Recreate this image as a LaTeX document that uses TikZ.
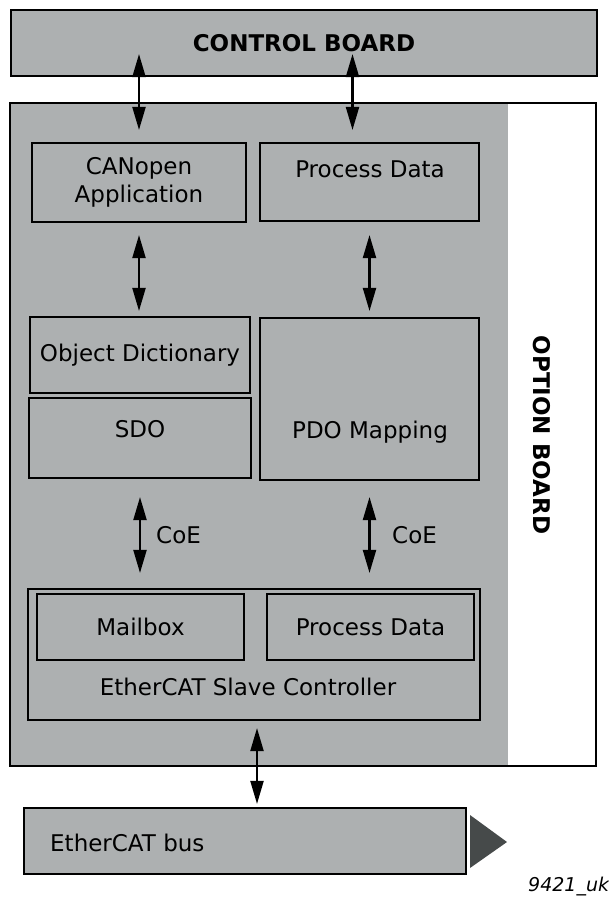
\documentclass[tikz,border=0pt]{standalone}
\usepackage{fontspec}
\setmainfont{DejaVu Sans}
\usepackage{tikz}
\usetikzlibrary{arrows.meta}
\definecolor{ecgrey}{RGB}{173,176,177}
\definecolor{ecdark}{RGB}{70,74,74}
\tikzset{
  ecbox/.style={draw=black, line width=2.1pt, fill=ecgrey, inner sep=0pt, align=center},
  ecopt/.style={draw=black, line width=2.1pt, fill=white, inner sep=0pt,
    path picture={\fill[ecgrey] (path picture bounding box.north west) rectangle ([xshift=-88pt]path picture bounding box.south east);}},
  ectext/.style={inner sep=0pt, align=center, text=black},
  ecarr/.style={{Triangle[length=23pt,width=13pt]}-{Triangle[length=23pt,width=13pt]}, line width=2.1pt}
}

\begin{document}
\begin{tikzpicture}[x=1pt, y=-1pt, font=\fontsize{23}{28}\selectfont]
  \useasboundingbox (0,0) rectangle (608,897);
  % boards
  \node[ecbox, minimum width=586pt, minimum height=66pt] (ctrl) at (304,43) {\bfseries CONTROL BOARD};
  \node[ecopt, minimum width=586pt, minimum height=663pt] (opt) at (303,434.5) {};
  \node[ectext, rotate=-90, font=\fontsize{23}{28}\selectfont\bfseries] (opttxt) at (542,435) {OPTION BOARD};
  % application layer
  \node[ecbox, minimum width=214pt, minimum height=79pt] (canopen) at (139,182.5) {CANopen\\Application};
  \node[ecbox, minimum width=219pt, minimum height=78pt] (pdtop) at (369.5,182) {};
  \node[ectext] (pdtoptxt) at (370,169) {Process Data};
  \node[ecbox, minimum width=220pt, minimum height=76pt] (od) at (140,355) {Object Dictionary};
  \node[ecbox, minimum width=222pt, minimum height=80pt] (sdo) at (140,438) {};
  \node[ectext] (sdotxt) at (140,429) {SDO};
  \node[ecbox, minimum width=219pt, minimum height=162pt] (pdo) at (369.5,399) {};
  \node[ectext] (pdotxt) at (370,432) {PDO Mapping};
  % slave controller
  \node[ecbox, minimum width=452pt, minimum height=131pt] (esc) at (254,654.5) {};
  \node[ecbox, minimum width=207pt, minimum height=66pt] (mbox) at (140.5,627) {Mailbox};
  \node[ecbox, minimum width=207pt, minimum height=66pt] (pdesc) at (370.5,627) {Process Data};
  \node[ectext] (esctxt) at (248,687) {EtherCAT Slave Controller};
  % bus
  \node[ecbox, minimum width=442pt, minimum height=66pt] (bus) at (245,841) {};
  \node[ectext, anchor=west] (bustxt) at (50,843) {EtherCAT bus};
  \fill[ecdark] (470,815) -- (507,842) -- (470,868) -- cycle;
  \node[ectext, anchor=west, font=\fontsize{19}{22}\selectfont\itshape] (figid) at (528,887) {9421\_uk};
  % links
  \draw[ecarr, shorten >=12pt] ([yshift=23pt]ctrl.south -| canopen.north) -- (canopen.north);
  \draw[ecarr, shorten >=12pt] ([xshift=-17pt,yshift=23pt]ctrl.south -| pdtop.north) -- ([xshift=-17pt]pdtop.north);
  \draw[ecarr, shorten <=12pt, shorten >=5pt] (canopen.south) -- (canopen.south |- od.north);
  \draw[ecarr, shorten <=13pt, shorten >=6pt] (pdtop.south) -- (pdo.north);
  \draw[ecarr, shorten <=18pt, shorten >=15pt] (sdo.south) -- (sdo.south |- esc.north);
  \draw[ecarr, shorten <=16pt, shorten >=15pt] (pdo.south) -- (pdo.south |- esc.north);
  \node[ectext, anchor=west] (coel) at (156,535) {CoE};
  \node[ectext, anchor=west] (coer) at (392,535) {CoE};
  \draw[ecarr, shorten <=7pt, shorten >=3pt] ([xshift=3pt]esc.south) -- ([xshift=3pt]esc.south |- bus.north);
\end{tikzpicture}
\end{document}
